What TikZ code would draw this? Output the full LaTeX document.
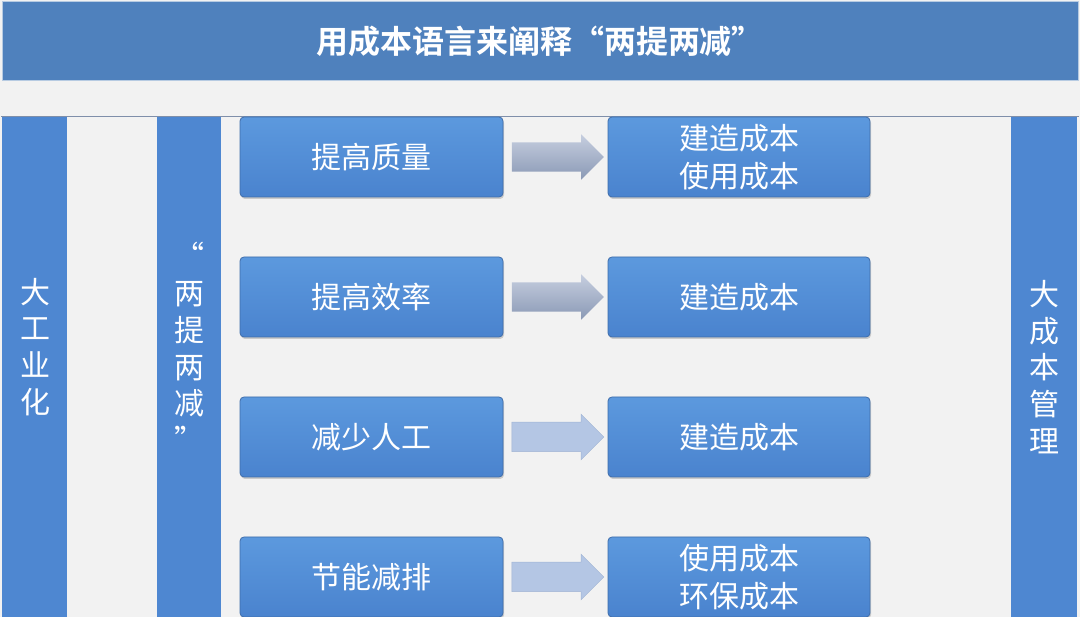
\documentclass[tikz,border=0pt]{standalone}
\usepackage{fontspec}
\newfontfamily\cjk{Noto Sans CJK SC}
\newfontfamily\cjkbold{Noto Sans CJK SC Bold}
\usetikzlibrary{shapes.arrows,shadows,calc}
\definecolor{bgc}{HTML}{F2F2F2}
\definecolor{titleblue}{HTML}{4F81BD}
\definecolor{titleedge}{HTML}{B7CBE2}
\definecolor{barblue}{HTML}{4E87D1}
\definecolor{boxtop}{HTML}{5C99DE}
\definecolor{boxbot}{HTML}{4A83CE}
\definecolor{boxedge}{HTML}{3F6DAA}
\definecolor{panelline}{HTML}{7F8FAA}
\definecolor{arrAtop}{HTML}{C6CEDF}
\definecolor{arrAbot}{HTML}{8A99B5}
\definecolor{arrB}{HTML}{B4C6E4}
\definecolor{arrBedge}{HTML}{A0B3D3}
\tikzset{
  barbox/.style={fill=barblue, draw=none},
  vtext/.style={text=white, align=center, inner sep=0pt, font=\cjk\fontsize{30}{36.8}\selectfont},
  costbox/.style={rounded corners=4pt, top color=boxtop, bottom color=boxbot, draw=boxedge, line width=0.8pt,
    text=white, align=center, inner sep=0pt, minimum height=80pt,
    font=\cjk\fontsize{30}{38}\selectfont,
    drop shadow={opacity=0.35, shadow xshift=1pt, shadow yshift=-2pt}},
  leftbox/.style={costbox, minimum width=263pt},
  rightbox/.style={costbox, minimum width=262pt},
  fatarrow/.style={single arrow, single arrow head extend=8pt, minimum width=45pt, minimum height=92pt,
    inner xsep=0pt, inner ysep=14.5pt, draw=none},
  arrowA/.style={fatarrow, top color=arrAtop, bottom color=arrAbot},
  arrowB/.style={fatarrow, fill=arrB, draw=arrBedge, line width=0.5pt}
}
\begin{document}
\begin{tikzpicture}[x=1pt,y=-1pt]
\useasboundingbox (0,0) rectangle (1080,617);
\fill[bgc] (0,0) rectangle (1080,617);
% title bar
\node[fill=titleblue, draw=titleedge, line width=1pt, minimum width=1076pt, minimum height=79pt, inner sep=0pt,
  text=white, font=\cjkbold\fontsize{32}{36}\selectfont] (title) at (540,41.5) {用成本语言来阐释“两提两减”};
% panel top line
\draw[panelline, line width=1pt] (1,116.5) -- (1079,116.5);
% vertical bars
\fill[barblue] (2,117) rectangle (67,617);
\fill[barblue] (157,117) rectangle (221,617);
\fill[barblue] (1011,117) rectangle (1077,617);
\node[vtext] (gy) at (35,347) {大\\工\\业\\化};
\node[vtext] (lt) at (189,347) {“\\两\\提\\两\\减\\”};
\node[vtext] (dc) at (1044,367) {大\\成\\本\\管\\理};
% left boxes
\node[leftbox] (l1) at (371.5,157) {提高质量};
\node[leftbox] (l2) at (371.5,297) {提高效率};
\node[leftbox] (l3) at (371.5,437) {减少人工};
\node[leftbox] (l4) at (371.5,577) {节能减排};
% right boxes
\node[rightbox] (r1) at (739,157) {建造成本\\使用成本};
\node[rightbox] (r2) at (739,297) {建造成本};
\node[rightbox] (r3) at (739,437) {建造成本};
\node[rightbox] (r4) at (739,577) {使用成本\\环保成本};
% arrows
\node[arrowA] (a1) at ($(l1.east)!0.5!(r1.west)+(-5,0)$) {};
\node[arrowA] (a2) at ($(l2.east)!0.5!(r2.west)+(-5,0)$) {};
\node[arrowB] (a3) at ($(l3.east)!0.5!(r3.west)+(-5,0)$) {};
\node[arrowB] (a4) at ($(l4.east)!0.5!(r4.west)+(-5,0)$) {};
\end{tikzpicture}
\end{document}
